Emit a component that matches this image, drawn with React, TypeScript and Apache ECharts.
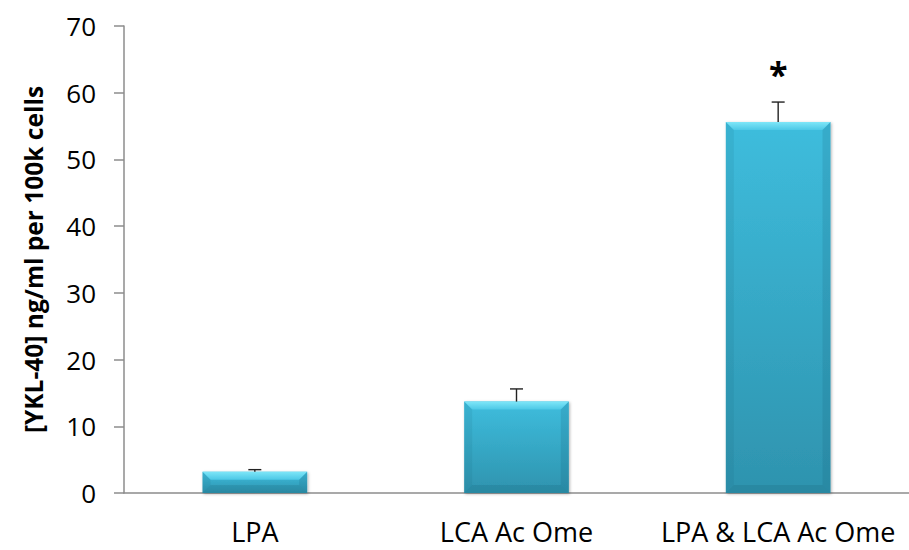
import React, { useEffect, useRef } from "react";
import * as echarts from "echarts";

const categories = ["LPA", "LCA Ac Ome", "LPA & LCA Ac Ome"];
const means = [3.2, 13.7, 55.6];
const errorsUp = [0.3, 1.9, 3.0];
const significance = ["", "", "*"];
const yTicks = { min: 0, max: 70, interval: 10 };
const yTitle = "[YKL-40] ng/ml per 100k cells";

const FONT = "'Open Sans', 'Noto Sans', sans-serif";

export default function App() {
  const ref = useRef<HTMLDivElement>(null);
  useEffect(() => {
    if (!ref.current) return;
    const chart = echarts.init(ref.current, null, { renderer: "svg" });
    const overlayData = categories.map((c, i) => [i, means[i], errorsUp[i]]);
    chart.setOption({
      animation: false,
      backgroundColor: "#ffffff",
      grid: { left: 124, right: -4, top: 26, bottom: 57, containLabel: false },
      xAxis: {
        type: "category",
        data: categories,
        axisLine: { show: true, lineStyle: { color: "#8c8c8c", width: 1.5 } },
        axisTick: { show: false },
        axisLabel: { color: "#000", fontSize: 27, fontFamily: FONT, margin: 25, interval: 0 },
      },
      yAxis: {
        type: "value",
        min: yTicks.min,
        max: yTicks.max,
        interval: yTicks.interval,
        splitLine: { show: false },
        axisLine: { show: true, lineStyle: { color: "#8c8c8c", width: 1.5 } },
        axisTick: { show: true, length: 10, lineStyle: { color: "#8c8c8c", width: 1.5 } },
        axisLabel: { color: "#000", fontSize: 26, fontFamily: FONT, margin: 28 },
        name: yTitle,
        nameLocation: "middle",
        nameGap: 78,
        nameTextStyle: { color: "#000", fontSize: 24.5, fontWeight: "bold", fontFamily: FONT },
      },
      series: [
        {
          type: "bar",
          data: means,
          barWidth: "40%",
          itemStyle: {
            color: new echarts.graphic.LinearGradient(0, 0, 0, 1, [
              { offset: 0, color: "#3ebddd" },
              { offset: 1, color: "#2e93ae" },
            ]),
            shadowBlur: 3,
            shadowColor: "rgba(0,0,0,0.3)",
            shadowOffsetX: 1,
            shadowOffsetY: 1,
          },
        },
        {
          type: "custom",
          data: overlayData,
          z: 5,
          renderItem: (params: any, api: any) => {
            const idx = api.value(0);
            const v = api.value(1);
            const e = api.value(2);
            const sig = significance[params.dataIndex];
            const base = api.coord([idx, 0]);
            const top = api.coord([idx, v]);
            const cap = api.coord([idx, v + e]);
            const band = api.size([1, 0])[0];
            const bw = band * 0.4;
            const l = base[0] - bw / 2;
            const r = base[0] + bw / 2;
            const h = base[1] - top[1];
            const b = Math.min(8, h / 2.5);
            const children: any[] = [
              {
                type: "polygon",
                shape: { points: [[l, top[1]], [r, top[1]], [r - b, top[1] + b], [l + b, top[1] + b]] },
                style: {
                  fill: new echarts.graphic.LinearGradient(0, 0, 0, 1, [
                    { offset: 0, color: "#7ee6f8" },
                    { offset: 1, color: "#4cc8e6" },
                  ]),
                },
              },
              {
                type: "polygon",
                shape: { points: [[l, top[1]], [l + b, top[1] + b], [l + b, base[1] - b], [l, base[1]]] },
                style: { fill: "rgba(20,90,110,0.10)" },
              },
              {
                type: "polygon",
                shape: { points: [[r, top[1]], [r - b, top[1] + b], [r - b, base[1] - b], [r, base[1]]] },
                style: { fill: "rgba(20,90,110,0.16)" },
              },
              {
                type: "polygon",
                shape: { points: [[l, base[1]], [l + b, base[1] - b], [r - b, base[1] - b], [r, base[1]]] },
                style: { fill: "rgba(20,80,100,0.16)" },
              },
              {
                type: "line",
                shape: { x1: top[0], y1: top[1], x2: cap[0], y2: cap[1] },
                style: { stroke: "#222", lineWidth: 1.4 },
              },
              {
                type: "line",
                shape: { x1: cap[0] - 6.5, y1: cap[1], x2: cap[0] + 6.5, y2: cap[1] },
                style: { stroke: "#222", lineWidth: 1.4 },
              },
            ];
            if (sig) {
              children.push({
                type: "text",
                style: {
                  text: sig,
                  x: cap[0],
                  y: cap[1] - 45,
                  align: "center",
                  verticalAlign: "top",
                  fontSize: 34,
                  fontWeight: "bold",
                  fontFamily: FONT,
                  fill: "#000",
                },
              });
            }
            return { type: "group", children };
          },
        },
      ],
    });
    return () => chart.dispose();
  }, []);
  return (
    <div
      ref={ref}
      style={{ position: "fixed", left: 0, top: 0, width: 909, height: 550 }}
    />
  );
}
